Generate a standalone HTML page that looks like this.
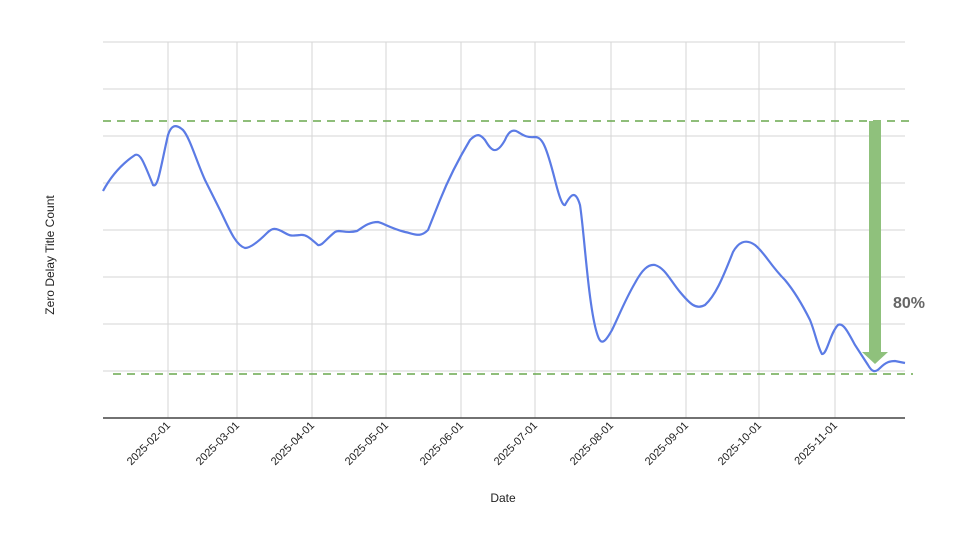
<!DOCTYPE html>
<html><head><meta charset="utf-8"><style>body{margin:0;background:#fff}svg{display:block;font-family:"Liberation Sans",Arial,sans-serif}</style></head>
<body>
<svg width="960" height="540" viewBox="0 0 960 540">
<g stroke="#d6d6d6" stroke-width="1">
<line x1="103" y1="42" x2="905" y2="42"/><line x1="103" y1="89" x2="905" y2="89"/>
<line x1="103" y1="136" x2="905" y2="136"/><line x1="103" y1="183" x2="905" y2="183"/>
<line x1="103" y1="230" x2="905" y2="230"/><line x1="103" y1="277" x2="905" y2="277"/>
<line x1="103" y1="324" x2="905" y2="324"/><line x1="103" y1="371" x2="905" y2="371"/>
<line x1="168" y1="42" x2="168" y2="418"/><line x1="237" y1="42" x2="237" y2="418"/>
<line x1="312" y1="42" x2="312" y2="418"/><line x1="386" y1="42" x2="386" y2="418"/>
<line x1="461" y1="42" x2="461" y2="418"/><line x1="535" y1="42" x2="535" y2="418"/>
<line x1="611" y1="42" x2="611" y2="418"/><line x1="686" y1="42" x2="686" y2="418"/>
<line x1="759" y1="42" x2="759" y2="418"/><line x1="835" y1="42" x2="835" y2="418"/>
</g>
<line x1="103" y1="418" x2="905" y2="418" stroke="#444" stroke-width="1.5"/>
<g stroke="#6aa84f" stroke-width="1.5" stroke-dasharray="8,6">
<line x1="103" y1="121" x2="913" y2="121"/>
<line x1="113" y1="374" x2="913" y2="374"/>
</g>
<path d="M103,191 C110,178 120,165 135,155 C140,153 143,160 153,185 C158,188 160,170 168,135 C171,126 175,123 183,130 C190,138 196,160 205,180 L220,210 C228,226 235,245 245,248 C250,248 257,243 267,233 C272,228 275,227 285,233 C290,236 292,236 300,235 C306,234 310,238 318,245 C322,246 325,240 335,232 C340,229 345,234 357,231 C362,228 368,222 378,222 C383,223 390,228 405,232 C415,234 420,238 428,230 L440,200 C448,180 458,160 470,140 C477,133 480,134 485,140 C490,148 495,158 505,140 C508,133 512,128 518,132 C523,135 527,138 535,137 C542,137 546,145 555,180 C560,200 563,206 565,205 C570,196 575,188 580,205 C584,230 588,300 596,330 C600,345 603,346 612,330 C618,318 625,300 635,283 C642,270 648,264 655,265 C665,268 670,280 680,292 C690,304 696,310 705,305 C715,296 722,280 733,252 C738,243 745,238 755,245 C765,253 770,265 785,280 C795,292 805,310 810,320 C815,332 818,348 822,354 C827,355 830,333 838,325 C843,322 848,332 855,345 L868,365 C872,372 875,373 880,368 C886,362 890,361 895,361 L905,363" fill="none" stroke="#5b7be5" stroke-width="2.2"/>
<rect x="869" y="121" width="12" height="232" fill="#8fc17c"/>
<polygon points="862,352 888,352 875,364" fill="#8fc17c"/>
<text x="909" y="308" font-size="16" font-weight="bold" fill="#666" text-anchor="middle">80%</text>
<g font-size="11" fill="#222" text-anchor="end">
<text transform="translate(171,426) rotate(-45)">2025-02-01</text>
<text transform="translate(240,426) rotate(-45)">2025-03-01</text>
<text transform="translate(315,426) rotate(-45)">2025-04-01</text>
<text transform="translate(389,426) rotate(-45)">2025-05-01</text>
<text transform="translate(464,426) rotate(-45)">2025-06-01</text>
<text transform="translate(538,426) rotate(-45)">2025-07-01</text>
<text transform="translate(614,426) rotate(-45)">2025-08-01</text>
<text transform="translate(689,426) rotate(-45)">2025-09-01</text>
<text transform="translate(762,426) rotate(-45)">2025-10-01</text>
<text transform="translate(838,426) rotate(-45)">2025-11-01</text>
</g>
<text x="503" y="502" font-size="12" fill="#222" text-anchor="middle">Date</text>
<text transform="translate(54,255) rotate(-90)" font-size="12" fill="#222" text-anchor="middle">Zero Delay Title Count</text>
</svg>
</body></html>
